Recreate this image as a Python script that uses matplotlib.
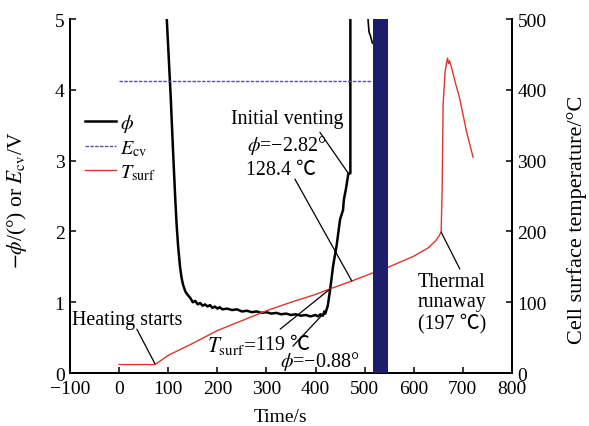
import matplotlib
matplotlib.use('Agg')
import matplotlib.pyplot as plt

plt.rcParams['font.family'] = ['Liberation Serif', 'Noto Sans CJK SC', 'DejaVu Serif']
plt.rcParams['mathtext.fontset'] = 'stix'
plt.rcParams['font.size'] = 14

# phase angle (-phi, degrees)
phi_time = [97, 105, 110, 114, 117, 120, 124, 127, 130, 135, 140, 145, 150, 155, 160,
            165, 170, 175, 180, 185, 190, 195, 200, 205, 210, 220, 230, 240, 250, 260,
            270, 280, 290, 300, 310, 320, 330, 340, 350, 360, 370, 380, 390, 400, 405,
            410, 415, 418, 420, 425, 430, 436, 443, 450, 456, 458, 462, 467, 471, 471]
phi_value = [5.0, 3.9, 3.1, 2.5, 2.1, 1.8, 1.5, 1.35, 1.25, 1.15, 1.1, 1.06, 1.0, 1.02, 0.97,
             0.99, 0.95, 0.97, 0.94, 0.96, 0.92, 0.94, 0.91, 0.93, 0.90, 0.91, 0.89, 0.90, 0.87, 0.88,
             0.86, 0.87, 0.85, 0.86, 0.84, 0.85, 0.83, 0.84, 0.82, 0.83, 0.81, 0.82, 0.80, 0.82, 0.80,
             0.83, 0.81, 0.87, 0.84, 0.95, 1.19, 1.52, 1.80, 2.17, 2.30, 2.46, 2.60, 2.82, 2.82, 5.0]
# short piece of phi seen after venting, just left of the blue band
phi_time_late = [507, 509, 512, 516]
phi_value_late = [5.0, 4.82, 4.76, 4.66]

# cell voltage
ecv_time = [0, 514]
ecv_value = [4.12, 4.12]

# surface temperature
temp_time = [0, 73, 100, 150, 200, 250, 300, 350, 400, 430, 474, 500, 550, 600, 630, 645,
             652, 656, 658, 660, 664, 667, 669, 671, 673, 677, 685, 694, 708, 721]
temp_value = [12, 12, 25, 42, 60, 74, 88, 100, 111, 119, 130, 137, 150, 165, 177, 187,
              194, 200, 260, 380, 425, 438, 445, 437, 441, 432, 410, 387, 340, 305]

# time window hidden by the dark band
band_start, band_end = 517, 547

fig = plt.figure(figsize=(5.89, 4.27), dpi=100)
ax = fig.add_axes([0.119, 0.124, 0.750, 0.829])
ax2 = ax.twinx()

l_phi, = ax.plot(phi_time, phi_value, color='black', lw=1.8, zorder=3)
ax.plot(phi_time_late, phi_value_late, color='black', lw=1.2, zorder=3)
l_ecv, = ax.plot(ecv_time, ecv_value, color='#5b4f9e', lw=1.0, linestyle=(0, (2.5, 1)), zorder=3)
l_t, = ax2.plot(temp_time, temp_value, color='#e0352b', lw=1.0, zorder=3)
ax2.axvspan(band_start, band_end, color='#1d1d6e', zorder=5, lw=0)

ax.set_xlim(-100, 800)
ax.set_ylim(0, 5)
ax2.set_ylim(0, 500)
ax.set_xticks(range(-100, 801, 100))
ax.set_yticks(range(0, 6))
ax2.set_yticks(range(0, 501, 100))

for a in (ax, ax2):
    a.spines['top'].set_visible(False)
    for s in ('left', 'right', 'bottom'):
        a.spines[s].set_linewidth(1.4)
    a.tick_params(direction='in', length=4, width=1.1, pad=4, labelsize=14)
ax.tick_params(axis='x', pad=5)

ax.set_xlabel('Time/s', fontsize=14)
ax.xaxis.set_label_coords(0.477, -0.10)
ax.set_ylabel(r'$-\phi$/(°) or $E_{\rm cv}$/V', fontsize=15.5)
ax.yaxis.set_label_coords(-0.092, 0.49)
ax2.set_ylabel('Cell surface temperature/°C', fontsize=16)
ax2.yaxis.set_label_coords(1.126, 0.435)

ax.legend([l_phi, l_ecv, l_t], [r'$\phi$', r'$E_{\rm cv}$', r'$T_{\rm surf}$'],
          loc='upper left', bbox_to_anchor=(0.012, 0.766), frameon=False,
          handlelength=1.5, handletextpad=0.2, labelspacing=0.22, borderpad=0,
          fontsize=14.5)

line = dict(arrowstyle='-', color='black', lw=0.9, shrinkA=0, shrinkB=0)
fs = 14.4

ax.text(342, 3.59, 'Initial venting', ha='center', va='center', fontsize=fs)
ax.text(342, 3.23, r'$\phi$=−2.82°', ha='center', va='center', fontsize=fs)
ax.annotate('', xy=(467, 2.82), xytext=(409, 3.40), arrowprops=line)

ax.text(330, 2.88, '128.4 ℃', ha='center', va='center', fontsize=fs)
ax2.annotate('', xy=(474, 130), xytext=(358, 274), arrowprops=line)

ax.text(16, 0.76, 'Heating starts', ha='center', va='center', fontsize=fs)
ax2.annotate('', xy=(73, 13), xytext=(36, 62), arrowprops=line)

ax.text(279, 0.40, r'$T_{\rm surf}$=', ha='right', va='center', fontsize=15.5)
ax.text(279, 0.40, '119 ℃', ha='left', va='center', fontsize=fs)
ax2.annotate('', xy=(430, 119), xytext=(328, 62), arrowprops=line)

ax.text(409, 0.18, r'$\phi$=−0.88°', ha='center', va='center', fontsize=fs)
ax.annotate('', xy=(415, 0.83), xytext=(354, 0.38), arrowprops=line)

ax.text(678, 1.0, 'Thermal\nrunaway\n(197 ℃)', ha='center', va='center',
        linespacing=1.1, fontsize=fs)
ax2.annotate('', xy=(656, 199), xytext=(694, 147), arrowprops=line)

fig.savefig('out.png', dpi=100)
